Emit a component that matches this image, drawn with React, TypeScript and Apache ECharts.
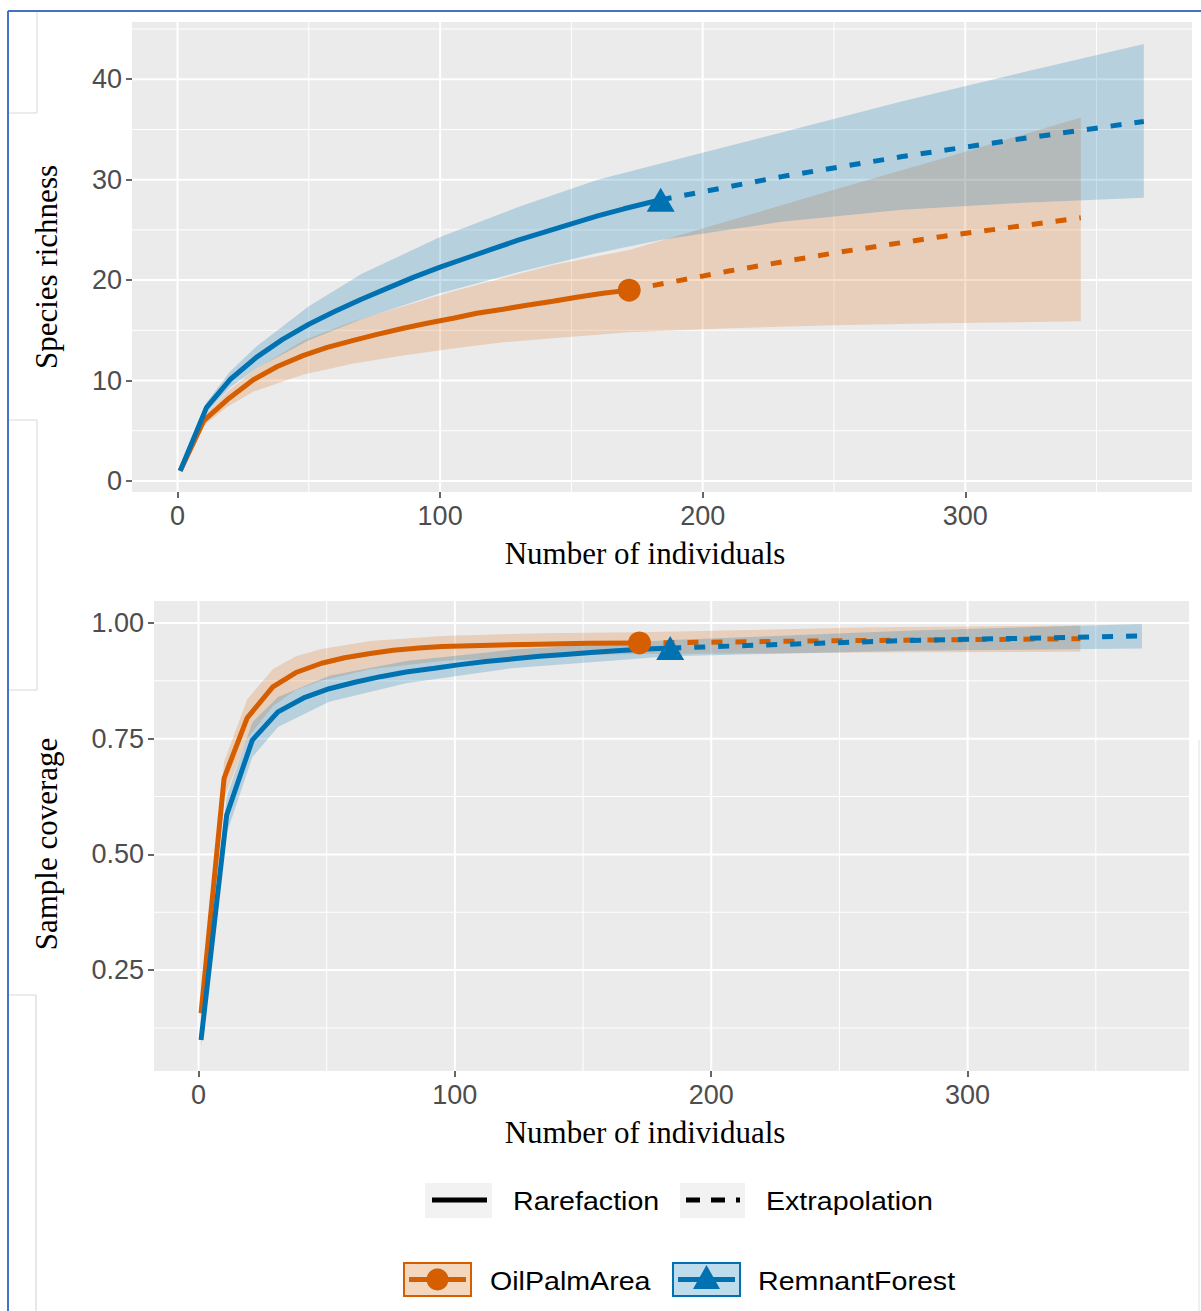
import React, { useEffect, useRef } from "react";
import * as echarts from "echarts";

// ---------- tick values ----------
const xMajor = [0, 100, 200, 300];
const xMinor = [50, 150, 250, 350];
const richMajor = [0, 10, 20, 30, 40];
const richMinor = [5, 15, 25, 35, 45];
const covMajor = [0.25, 0.5, 0.75, 1.0];
const covMinor = [0.125, 0.375, 0.625, 0.875];

// ---------- Species richness: OilPalmArea ----------
const oilRareN = [1, 10, 19, 29, 38, 48, 57, 67, 76, 86, 95, 105, 114, 124, 133, 143, 152, 162, 172];
const oilRareS = [1.0, 6.0, 8.1, 10.1, 11.4, 12.5, 13.3, 14.0, 14.6, 15.2, 15.7, 16.2, 16.7, 17.1, 17.5, 17.9, 18.3, 18.7, 19.0];
const oilExtN = [172, 210, 250, 290, 344];
const oilExtS = [19.0, 20.9, 22.7, 24.3, 26.2];
const oilBandN = [1, 10, 19, 29, 48, 67, 86, 105, 124, 143, 172, 210, 250, 290, 344];
const oilBandLo = [1.0, 5.5, 7.4, 8.9, 10.6, 11.7, 12.5, 13.2, 13.8, 14.2, 14.8, 15.2, 15.5, 15.7, 15.9];
const oilBandHi = [1.0, 6.5, 8.9, 11.0, 14.0, 15.9, 17.4, 18.9, 20.2, 21.5, 23.0, 25.9, 29.0, 32.0, 36.2];

// ---------- Species richness: RemnantForest ----------
const forRareN = [1, 11, 20, 30, 40, 50, 60, 70, 80, 90, 100, 110, 120, 130, 140, 150, 160, 170, 184];
const forRareS = [1.0, 7.3, 10.1, 12.3, 14.1, 15.6, 16.9, 18.1, 19.2, 20.3, 21.3, 22.2, 23.1, 24.0, 24.8, 25.6, 26.4, 27.1, 28.0];
const forExtN = [184, 230, 276, 322, 368];
const forExtS = [28.0, 30.3, 32.3, 34.1, 35.8];
const forBandN = [1, 11, 20, 30, 50, 70, 100, 130, 160, 184, 230, 276, 322, 368];
const forBandLo = [1.0, 6.8, 9.3, 11.2, 14.0, 16.1, 18.7, 20.8, 22.7, 24.0, 25.8, 27.0, 27.7, 28.2];
const forBandHi = [1.0, 7.8, 10.9, 13.4, 17.4, 20.6, 24.3, 27.3, 30.0, 31.6, 34.7, 37.8, 40.7, 43.5];

// ---------- Sample coverage: OilPalmArea ----------
const oilCovRareN = [1, 10, 19, 29, 38, 48, 57, 67, 76, 86, 95, 114, 133, 152, 172];
const oilCovRareC = [0.157, 0.665, 0.795, 0.862, 0.893, 0.913, 0.925, 0.934, 0.941, 0.946, 0.949, 0.952, 0.954, 0.956, 0.957];
const oilCovExtN = [172, 258, 344];
const oilCovExtC = [0.957, 0.962, 0.966];
const oilCovBandN = [1, 10, 19, 29, 38, 48, 67, 95, 133, 172, 258, 344];
const oilCovBandLo = [0.14, 0.62, 0.75, 0.82, 0.855, 0.875, 0.9, 0.918, 0.928, 0.933, 0.936, 0.938];
const oilCovBandHi = [0.17, 0.7, 0.835, 0.9, 0.928, 0.944, 0.961, 0.972, 0.978, 0.98, 0.99, 0.995];

// ---------- Sample coverage: RemnantForest ----------
const forCovRareN = [1, 11, 21, 31, 41, 51, 61, 71, 81, 92, 102, 112, 122, 133, 143, 153, 163, 173, 184];
const forCovRareC = [0.099, 0.585, 0.747, 0.808, 0.838, 0.858, 0.872, 0.884, 0.894, 0.902, 0.91, 0.917, 0.922, 0.928, 0.932, 0.936, 0.94, 0.943, 0.946];
const forCovExtN = [184, 276, 368];
const forCovExtC = [0.946, 0.962, 0.972];
const forCovBandN = [1, 11, 21, 31, 51, 81, 122, 184, 276, 368];
const forCovBandLo = [0.085, 0.545, 0.71, 0.775, 0.83, 0.87, 0.902, 0.928, 0.94, 0.945];
const forCovBandHi = [0.11, 0.625, 0.785, 0.84, 0.886, 0.918, 0.942, 0.963, 0.983, 0.998];

// ---------- colours ----------
const ORANGE = "#D55E00";
const BLUE = "#0072B2";
const ORANGE_FILL = "rgba(213,94,0,0.2)";
const BLUE_FILL = "rgba(0,114,178,0.22)";

const X_MIN = -17.35;
const X_MAX = 386.35;
const R_MIN = -1.1;
const R_MAX = 45.7;
const C_MIN = 0.032;
const C_MAX = 1.0475;

const zip = (a: number[], b: number[]) => a.map((v, i) => [v, b[i]]);

function bandSeries(n: number[], lo: number[], hi: number[], fill: string, gi: number, z: number) {
  return {
    type: "custom",
    xAxisIndex: gi,
    yAxisIndex: gi,
    z,
    silent: true,
    data: n.map((v, i) => [v, lo[i], hi[i]]),
    renderItem: (params: any, api: any) => {
      if (params.dataIndex !== 0) return null;
      const pts: number[][] = [];
      for (let i = 0; i < n.length; i++) pts.push(api.coord([n[i], lo[i]]));
      for (let i = n.length - 1; i >= 0; i--) pts.push(api.coord([n[i], hi[i]]));
      return { type: "polygon", shape: { points: pts }, style: { fill } };
    },
  };
}

function gridLines(gi: number, xs: number[], ys: number[], yMin: number, yMax: number, width: number) {
  const out: any[] = [];
  xs.forEach((x) =>
    out.push({
      type: "line",
      xAxisIndex: gi,
      yAxisIndex: gi,
      z: 1,
      silent: true,
      showSymbol: false,
      data: [[x, yMin], [x, yMax]],
      lineStyle: { color: "#FFFFFF", width },
    })
  );
  ys.forEach((y) =>
    out.push({
      type: "line",
      xAxisIndex: gi,
      yAxisIndex: gi,
      z: 1,
      silent: true,
      showSymbol: false,
      data: [[X_MIN, y], [X_MAX, y]],
      lineStyle: { color: "#FFFFFF", width },
    })
  );
  return out;
}

function curve(gi: number, data: number[][], color: string, dashed: boolean, z: number) {
  return {
    type: "line",
    xAxisIndex: gi,
    yAxisIndex: gi,
    z,
    silent: true,
    showSymbol: false,
    data,
    lineStyle: { color, width: 5, type: dashed ? [11, 13] : "solid", cap: "butt" },
  };
}

function marker(gi: number, pt: number[], color: string, symbol: string, size: any, z: number) {
  return {
    type: "scatter",
    xAxisIndex: gi,
    yAxisIndex: gi,
    z,
    silent: true,
    symbol,
    symbolSize: size,
    data: [pt],
    itemStyle: { color, opacity: 1 },
  };
}

const tickLabel = { fontSize: 27, color: "#4D4D4D", fontFamily: "Liberation Sans", margin: 10 };
const tickStyle = { show: true, length: 6, lineStyle: { color: "#333333", width: 1.5 } };

function xAxisCfg(gi: number) {
  return {
    type: "value",
    gridIndex: gi,
    position: "bottom",
    min: X_MIN,
    max: X_MAX,
    splitLine: { show: false },
    axisLine: { show: false, onZero: false },
    axisTick: { ...tickStyle, customValues: xMajor },
    axisLabel: { ...tickLabel, customValues: xMajor },
  };
}

export default function App() {
  const ref = useRef<HTMLDivElement>(null);
  useEffect(() => {
    document.body.style.margin = "0";
    if (!ref.current) return;
    const chart = echarts.init(ref.current, null, { renderer: "svg" });

    const titleFont = { fontFamily: "Liberation Serif", fontSize: 31, fill: "#000" };
    const legFont = { fontFamily: "Liberation Sans", fontSize: 26, fill: "#000" };

    const graphic: any[] = [
      // page frame lines
      { type: "line", shape: { x1: 8, y1: 11, x2: 1201, y2: 11 }, style: { stroke: "#4472C4", lineWidth: 2 } },
      { type: "line", shape: { x1: 8, y1: 11, x2: 8, y2: 1311 }, style: { stroke: "#4472C4", lineWidth: 2 } },
      { type: "line", shape: { x1: 37, y1: 12, x2: 37, y2: 113 }, style: { stroke: "#D8D8D8", lineWidth: 1 } },
      { type: "line", shape: { x1: 9, y1: 113, x2: 37, y2: 113 }, style: { stroke: "#D8D8D8", lineWidth: 1 } },
      { type: "line", shape: { x1: 9, y1: 420, x2: 37, y2: 420 }, style: { stroke: "#D8D8D8", lineWidth: 1 } },
      { type: "line", shape: { x1: 37, y1: 420, x2: 37, y2: 690 }, style: { stroke: "#D8D8D8", lineWidth: 1 } },
      { type: "line", shape: { x1: 9, y1: 690, x2: 37, y2: 690 }, style: { stroke: "#D8D8D8", lineWidth: 1 } },
      { type: "line", shape: { x1: 9, y1: 995, x2: 36, y2: 995 }, style: { stroke: "#D8D8D8", lineWidth: 1 } },
      { type: "line", shape: { x1: 36, y1: 995, x2: 36, y2: 1311 }, style: { stroke: "#D0D0D0", lineWidth: 1 } },
      { type: "line", shape: { x1: 1199, y1: 740, x2: 1199, y2: 1311 }, style: { stroke: "#E0E0E0", lineWidth: 1 } },
      // axis titles
      { type: "text", x: 645, y: 553, style: { ...titleFont, text: "Number of individuals", align: "center", verticalAlign: "middle" } },
      { type: "text", x: 645, y: 1132, style: { ...titleFont, text: "Number of individuals", align: "center", verticalAlign: "middle" } },
      { type: "text", x: 46, y: 267, rotation: Math.PI / 2, style: { ...titleFont, text: "Species richness", align: "center", verticalAlign: "middle" } },
      { type: "text", x: 46, y: 844, rotation: Math.PI / 2, style: { ...titleFont, text: "Sample coverage", align: "center", verticalAlign: "middle" } },
      // legend row 1
      { type: "rect", shape: { x: 425, y: 1183, width: 67, height: 35 }, style: { fill: "#F2F2F2" } },
      { type: "line", shape: { x1: 432, y1: 1200, x2: 487, y2: 1200 }, style: { stroke: "#000", lineWidth: 5 } },
      { type: "text", x: 513, y: 1201, scaleX: 1.1, style: { ...legFont, text: "Rarefaction", align: "left", verticalAlign: "middle" } },
      { type: "rect", shape: { x: 680, y: 1183, width: 65, height: 35 }, style: { fill: "#F2F2F2" } },
      { type: "line", shape: { x1: 686, y1: 1200, x2: 740, y2: 1200 }, style: { stroke: "#000", lineWidth: 5, lineDash: [14, 11] } },
      { type: "text", x: 766, y: 1201, scaleX: 1.1, style: { ...legFont, text: "Extrapolation", align: "left", verticalAlign: "middle" } },
      // legend row 2
      { type: "rect", shape: { x: 404, y: 1263, width: 67, height: 33 }, style: { fill: "rgba(213,94,0,0.25)", stroke: ORANGE, lineWidth: 2 } },
      { type: "line", shape: { x1: 409, y1: 1279.5, x2: 466, y2: 1279.5 }, style: { stroke: ORANGE, lineWidth: 5 } },
      { type: "circle", shape: { cx: 437.5, cy: 1279.5, r: 11 }, style: { fill: ORANGE } },
      { type: "text", x: 490, y: 1281, scaleX: 1.1, style: { ...legFont, text: "OilPalmArea", align: "left", verticalAlign: "middle" } },
      { type: "rect", shape: { x: 673, y: 1263, width: 67, height: 33 }, style: { fill: "rgba(0,114,178,0.25)", stroke: BLUE, lineWidth: 2 } },
      { type: "line", shape: { x1: 678, y1: 1279.5, x2: 735, y2: 1279.5 }, style: { stroke: BLUE, lineWidth: 5 } },
      { type: "polygon", shape: { points: [[706.5, 1265], [720, 1289], [693, 1289]] }, style: { fill: BLUE } },
      { type: "text", x: 758, y: 1281, scaleX: 1.1, style: { ...legFont, text: "RemnantForest", align: "left", verticalAlign: "middle" } },
    ];

    const series: any[] = [
      // top panel
      ...gridLines(0, xMinor, richMinor, R_MIN, R_MAX, 1),
      ...gridLines(0, xMajor, richMajor, R_MIN, R_MAX, 2),
      bandSeries(oilBandN, oilBandLo, oilBandHi, ORANGE_FILL, 0, 2),
      bandSeries(forBandN, forBandLo, forBandHi, BLUE_FILL, 0, 3),
      curve(0, zip(oilRareN, oilRareS), ORANGE, false, 4),
      curve(0, zip(oilExtN, oilExtS), ORANGE, true, 4),
      curve(0, zip(forRareN, forRareS), BLUE, false, 5),
      curve(0, zip(forExtN, forExtS), BLUE, true, 5),
      marker(0, [oilRareN[oilRareN.length - 1], oilRareS[oilRareS.length - 1]], ORANGE, "circle", 23, 6),
      marker(0, [forRareN[forRareN.length - 1], forRareS[forRareS.length - 1]], BLUE, "triangle", [28, 24], 7),
      // bottom panel
      ...gridLines(1, xMinor, covMinor, C_MIN, C_MAX, 1),
      ...gridLines(1, xMajor, covMajor, C_MIN, C_MAX, 2),
      bandSeries(oilCovBandN, oilCovBandLo, oilCovBandHi, ORANGE_FILL, 1, 2),
      bandSeries(forCovBandN, forCovBandLo, forCovBandHi, BLUE_FILL, 1, 3),
      curve(1, zip(oilCovRareN, oilCovRareC), ORANGE, false, 4),
      curve(1, zip(oilCovExtN, oilCovExtC), ORANGE, true, 4),
      curve(1, zip(forCovRareN, forCovRareC), BLUE, false, 5),
      curve(1, zip(forCovExtN, forCovExtC), BLUE, true, 5),
      marker(1, [oilCovRareN[oilCovRareN.length - 1], oilCovRareC[oilCovRareC.length - 1]], ORANGE, "circle", 23, 6),
      marker(1, [forCovRareN[forCovRareN.length - 1], forCovRareC[forCovRareC.length - 1]], BLUE, "triangle", [28, 24], 7),
    ];

    chart.setOption({
      animation: false,
      backgroundColor: "#FFFFFF",
      grid: [
        { left: 132, top: 22, width: 1060, height: 470, show: true, backgroundColor: "#EBEBEB", borderWidth: 0 },
        { left: 154, top: 601, width: 1035, height: 470, show: true, backgroundColor: "#EBEBEB", borderWidth: 0 },
      ],
      xAxis: [xAxisCfg(0), xAxisCfg(1)],
      yAxis: [
        {
          type: "value",
          gridIndex: 0,
          position: "left",
          min: R_MIN,
          max: R_MAX,
          splitLine: { show: false },
          axisLine: { show: false, onZero: false },
          axisTick: { ...tickStyle, customValues: richMajor },
          axisLabel: { ...tickLabel, customValues: richMajor },
        },
        {
          type: "value",
          gridIndex: 1,
          position: "left",
          min: C_MIN,
          max: C_MAX,
          splitLine: { show: false },
          axisLine: { show: false, onZero: false },
          axisTick: { ...tickStyle, customValues: covMajor },
          axisLabel: { ...tickLabel, customValues: covMajor, formatter: (v: number) => v.toFixed(2) },
        },
      ],
      graphic,
      series,
    });
    return () => chart.dispose();
  }, []);
  return <div ref={ref} style={{ width: 1201, height: 1311 }} />;
}
